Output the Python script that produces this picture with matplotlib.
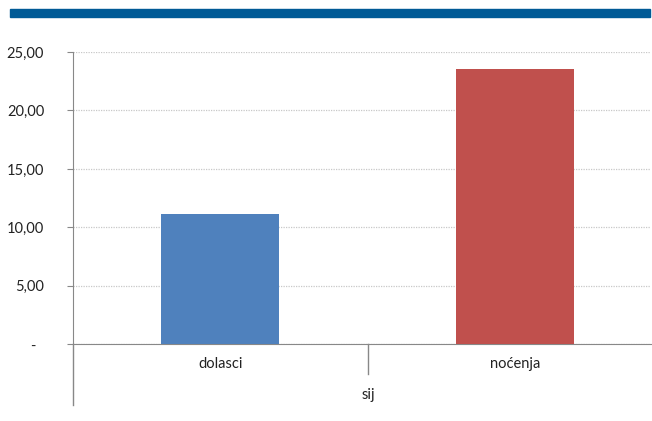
import matplotlib.pyplot as plt
from matplotlib.patches import Rectangle

categories = ["dolasci", "noćenja"]
values = [11.15, 23.57]
colors = ["#4f81bd", "#c0504d"]
group_label = "sij"
yticks = [0, 5, 10, 15, 20, 25]
ytick_labels = ["-  ", "5,00", "10,00", "15,00", "20,00", "25,00"]

plt.rcParams["font.family"] = ["Lato", "DejaVu Sans"]

fig = plt.figure(figsize=(6.52, 4.21), dpi=100)
W, H = 652, 421
ax = fig.add_axes([73 / W, 1 - 344.3 / H, (651 - 73) / W, 292.3 / H])

# blue band across the top
fig.patches.append(Rectangle((10 / W, 1 - 17 / H), 640 / W, 8 / H,
                             transform=fig.transFigure, color="#005a96", zorder=5))

x = range(len(categories))
ax.bar(x, values, width=0.4, color=colors, zorder=3)

ax.set_xlim(-0.5, 1.46)
ax.set_ylim(0, 25)
ax.set_yticks(yticks)
ax.set_yticklabels(ytick_labels, fontsize=10.5, color="#222222")
ax.set_xticks(list(x))
ax.set_xticklabels(categories, fontsize=10.5, color="#222222")
ax.tick_params(axis="x", length=0, pad=9)
ax.tick_params(axis="y", length=4.3, direction="out", color="#888888", pad=16.5)

ax.grid(axis="y", linestyle=(0, (1, 1)), color="#c8c8c8", linewidth=0.9, zorder=0)
for s in ["top", "right"]:
    ax.spines[s].set_visible(False)
ax.spines["left"].set_color("#888888")
ax.spines["bottom"].set_color("#888888")

# extended axis lines under the category labels
tr = ax.get_xaxis_transform()
ax.plot([-0.5, -0.5], [0, -0.208], transform=tr, color="#888888", lw=1, clip_on=False)
ax.plot([0.5, 0.5], [0, -0.10], transform=tr, color="#888888", lw=1, clip_on=False)
ax.text(0.5, -0.173, group_label, transform=tr, ha="center", va="center",
        fontsize=10.5, color="#222222")

fig.savefig("out.png", dpi=100)
